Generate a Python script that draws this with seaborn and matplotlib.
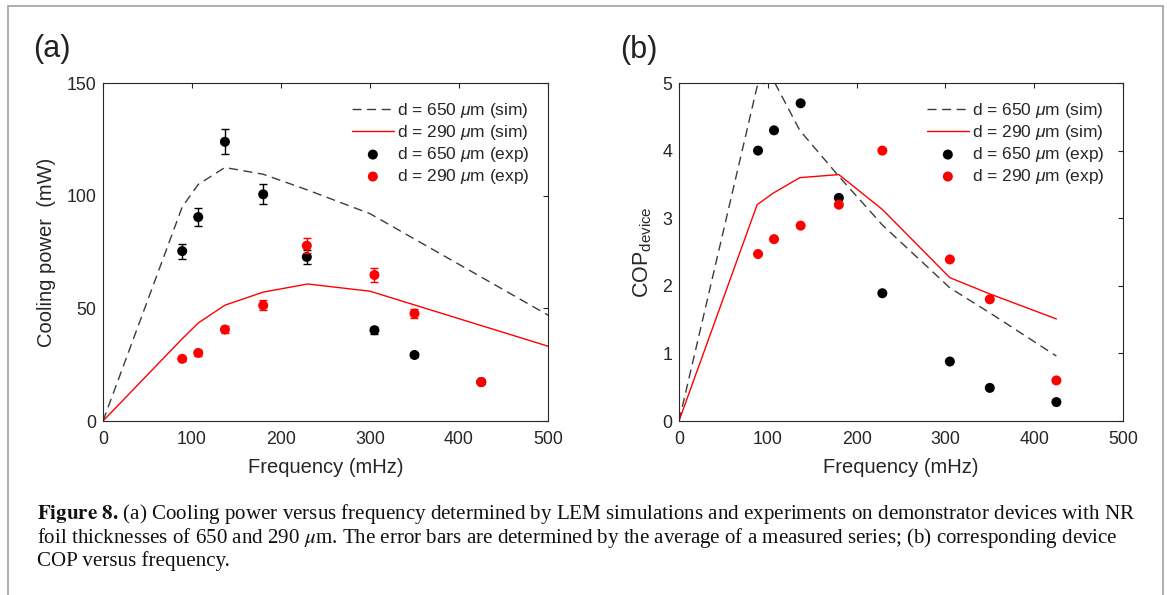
import numpy as np
import pandas as pd
import matplotlib
matplotlib.use("Agg")
import matplotlib.pyplot as plt
import seaborn as sns
from matplotlib.lines import Line2D

# ---------------- data ----------------
freq_exp = [89, 107, 137, 180, 229, 305, 350, 425]
power_650_exp = [75.4, 90.5, 123.9, 100.6, 72.8, 40.3, 29.3, 17.3]
power_650_err = [3.3, 3.9, 5.5, 4.5, 3.2, 1.5, 1.0, 1.0]
power_290_exp = [27.6, 30.2, 40.6, 51.3, 77.8, 64.8, 47.7, 17.3]
power_290_err = [1.0, 1.2, 1.5, 2.2, 3.3, 3.0, 2.2, 1.0]

sim_a_freq = [0, 89, 107, 137, 180, 230, 300, 500]
power_650_sim = [0, 95.0, 105.0, 112.5, 109.5, 102.5, 92.0, 47.0]
power_290_sim = [0, 36.5, 43.5, 51.4, 57.2, 60.8, 57.6, 33.2]

cop_650_exp = [4.0, 4.3, 4.7, 3.3, 1.89, 0.88, 0.49, 0.28]
cop_290_exp = [2.47, 2.69, 2.89, 3.2, 4.0, 2.39, 1.8, 0.6]

sim_b_freq = [0, 88, 106, 136, 180, 229, 305, 350, 425]
cop_650_sim = [0, 4.95, 5.05, 4.3, 3.62, 2.9, 1.97, 1.6, 0.96]
cop_290_sim = [0, 3.2, 3.37, 3.6, 3.645, 3.13, 2.12, 1.88, 1.51]

x_ticks = [0, 100, 200, 300, 400, 500]
y_ticks_a = [0, 50, 100, 150]
y_ticks_b = [0, 1, 2, 3, 4, 5]

labels = [r"d = 650 $\mu$m (sim)", r"d = 290 $\mu$m (sim)",
          r"d = 650 $\mu$m (exp)", r"d = 290 $\mu$m (exp)"]

caption_lines = [
    r"$\mathbf{Figure\ 8.}\,$(a) Cooling power versus frequency determined by LEM simulations and experiments on demonstrator devices with NR",
    r"foil thicknesses of 650 and 290 $\mu$m. The error bars are determined by the average of a measured series; (b) corresponding device",
    "COP versus frequency.",
]

# ---------------- style ----------------
sns.set_theme(style="white")
plt.rcParams["font.family"] = ["Liberation Sans", "DejaVu Sans"]
plt.rcParams["mathtext.fontset"] = "custom"
plt.rcParams["mathtext.rm"] = "Liberation Sans"
plt.rcParams["mathtext.it"] = "Liberation Sans:italic"
plt.rcParams["mathtext.bf"] = "Liberation Sans:bold"

W, H = 1167, 595
fig = plt.figure(figsize=(W / 100, H / 100), dpi=100)
axA = fig.add_axes([103 / W, 1 - 421 / H, 445 / W, 338 / H])
axB = fig.add_axes([679 / W, 1 - 421 / H, 444 / W, 338 / H])

DASH_C = "#3c3c3c"
AX_C = "#262626"
TICK_FS = 12.8
LAB_FS = 14.5


def panel(ax, sx, s650, s290, e650, e290, err650=None, err290=None):
    sns.lineplot(x=sx, y=s650, ax=ax, color=DASH_C, lw=1.0, dashes=False,
                 linestyle=(0, (6.5, 4)), label=labels[0], sort=False)
    sns.lineplot(x=sx, y=s290, ax=ax, color="red", lw=1.0, label=labels[1], sort=False)
    if err650 is not None:
        ax.errorbar(freq_exp, e650, yerr=err650, fmt="none", ecolor="black",
                    elinewidth=1.0, capsize=2.6, capthick=1.0, zorder=3)
    sns.scatterplot(x=freq_exp, y=e650, ax=ax, color="black", s=52,
                    edgecolor="none", label=labels[2], zorder=4)
    if err290 is not None:
        ax.errorbar(freq_exp, e290, yerr=err290, fmt="none", ecolor="red",
                    elinewidth=1.0, capsize=2.6, capthick=1.0, zorder=5)
    sns.scatterplot(x=freq_exp, y=e290, ax=ax, color="red", s=52,
                    edgecolor="none", label=labels[3], zorder=6)
    ax.set_xlim(0, 500)
    ax.set_xticks(x_ticks)
    ax.tick_params(direction="in", length=3.5, width=0.8, top=True, right=True,
                   labelsize=TICK_FS, colors=AX_C, pad=7.5)
    ax.tick_params(axis="y", pad=5)
    for sp in ax.spines.values():
        sp.set_color(AX_C)
        sp.set_linewidth(0.8)
        sp.set_visible(True)
    ax.set_xlabel("Frequency (mHz)", fontsize=LAB_FS, color=AX_C, labelpad=7)
    leg = ax.legend(loc="upper right", frameon=False, fontsize=12.5,
                    handlelength=2.4, handletextpad=0.2, labelspacing=0.17,
                    borderaxespad=0.5, borderpad=0.55)
    for t in leg.get_texts():
        t.set_color(AX_C)


panel(axA, sim_a_freq, power_650_sim, power_290_sim, power_650_exp, power_290_exp,
      power_650_err, power_290_err)
axA.set_ylim(0, 150)
axA.set_yticks(y_ticks_a)
axA.set_ylabel("Cooling power  (mW)", fontsize=LAB_FS, color=AX_C, labelpad=7)

panel(axB, sim_b_freq, cop_650_sim, cop_290_sim, cop_650_exp, cop_290_exp)
axB.set_ylim(0, 5)
axB.set_yticks(y_ticks_b)
axB.set_ylabel(r"COP$_{\mathrm{device}}$", fontsize=LAB_FS + 1, color=AX_C, labelpad=6)

fig.text(33 / W, 1 - 49 / H, "(a)", fontsize=22, ha="left", va="center", color="#222222")
fig.text(620 / W, 1 - 50 / H, "(b)", fontsize=22, ha="left", va="center", color="#222222")

# caption
for i, line in enumerate(caption_lines):
    fig.text(37 / W, 1 - (519 + 23.5 * i) / H, line, fontsize=15.1,
             family="Liberation Serif", math_fontfamily="stix",
             ha="left", va="baseline", color="#111111")

# page frame
fc = "#a8a8a8"
fig.add_artist(Line2D([8 / W, 8 / W], [0, 1 - 6 / H], transform=fig.transFigure, color=fc, lw=1.3))
fig.add_artist(Line2D([8 / W, 1163 / W], [1 - 6 / H, 1 - 6 / H], transform=fig.transFigure, color=fc, lw=1.3))
fig.add_artist(Line2D([1163 / W, 1163 / W], [0, 1 - 6 / H], transform=fig.transFigure, color=fc, lw=1.3))

fig.savefig("out.png", dpi=100, facecolor="white")
